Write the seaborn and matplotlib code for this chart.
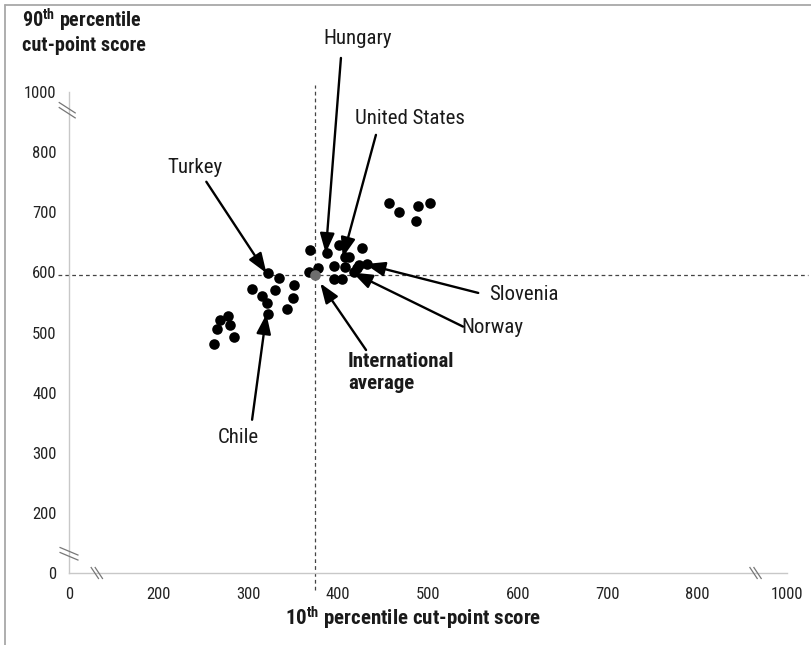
import matplotlib
matplotlib.use('Agg')
import matplotlib.pyplot as plt
from matplotlib.lines import Line2D
from matplotlib import font_manager
import seaborn as sns
import pandas as pd

# 10th and 90th percentile cut-point scores (one dot per country)
p10_scores = [262, 265, 268, 277, 279, 284,
              322, 334, 351, 304, 315, 330, 321, 350, 343, 322,
              369, 367, 377, 388, 401, 407, 412, 426, 395, 407, 423, 432, 418, 421, 395, 404,
              457, 468, 489, 502, 487]
p90_scores = [481, 506, 521, 527, 512, 493,
              599, 591, 580, 573, 561, 571, 549, 558, 540, 531,
              637, 601, 607, 632, 646, 625, 625, 641, 611, 609, 612, 614, 600, 607, 589, 590,
              715, 700, 711, 716, 686]

# international average
avg_p10 = 374
avg_p90 = 596

# broken axis: label "0" sits at position 100 and "1000" at 900
tick_pos = [100, 200, 300, 400, 500, 600, 700, 800, 900]
tick_labels = ['0', '200', '300', '400', '500', '600', '700', '800', '1000']

# labelled countries: name, dot it points to, text position, arrow start
countries = ['Hungary', 'United States', 'Turkey', 'Slovenia', 'Norway', 'Chile']
country_dots = [(388, 632), (407, 625), (322, 599), (432, 614), (418, 600), (322, 531)]
label_pos = [(422, 990), (480, 857), (240, 774), (607, 564), (572, 508), (289, 325)]
arrow_start = [(403, 957), (442, 829), (253, 751), (556, 566), (539, 510), (304, 355)]

sns.set_style('white')
installed = {f.name for f in font_manager.fontManager.ttflist}
base_font = next((f for f in ['Liberation Sans Narrow', 'Arial Narrow', 'Roboto Condensed',
                              'Liberation Sans'] if f in installed), 'DejaVu Sans')
plt.rcParams['font.family'] = [base_font, 'DejaVu Sans']
plt.rcParams['mathtext.fontset'] = 'custom'
plt.rcParams['mathtext.rm'] = base_font
plt.rcParams['mathtext.bf'] = base_font + ':bold'

W, H = 812, 645
fig = plt.figure(figsize=(W / 100, H / 100), dpi=100)
ax = fig.add_axes([0, 0, 1, 1])
xmin, xmax = 23.1, 927.9
ymin, ymax = -19.8, 1053.4
ax.set_xlim(xmin, xmax)
ax.set_ylim(ymin, ymax)
sx = W / (xmax - xmin)   # pixels per data unit
sy = H / (ymax - ymin)

df = pd.DataFrame({'p10': p10_scores, 'p90': p90_scores})
sns.scatterplot(data=df, x='p10', y='p90', color='black', s=58, linewidth=0, ax=ax, zorder=4)
sns.scatterplot(x=[avg_p10], y=[avg_p90], color='#6e6e6e', s=58, linewidth=0, ax=ax, zorder=5)

# average reference lines
ax.plot([avg_p10, avg_p10], [72, 912], ls=(0, (3, 2.5)), color='#444444', lw=0.9, zorder=2)
ax.plot([88, 923], [avg_p90, avg_p90], ls=(0, (3, 2.5)), color='#444444', lw=0.9, zorder=2)

# axes
for side in ['top', 'right']:
    ax.spines[side].set_visible(False)
ax.spines['left'].set_position(('data', 100))
ax.spines['bottom'].set_position(('data', 100))
ax.spines['left'].set_bounds(100, 900)
ax.spines['bottom'].set_bounds(100, 900)
for side in ['left', 'bottom']:
    ax.spines[side].set_color('#c8c8c8')
    ax.spines[side].set_linewidth(1.0)
ax.set_xticks(tick_pos)
ax.set_xticklabels(tick_labels)
ax.set_yticks(tick_pos)
ax.set_yticklabels(tick_labels)
ax.tick_params(axis='y', direction='out', length=4, width=0.8, color='#b0b0b0',
               labelsize=12, pad=5, labelcolor='#222222')
ax.tick_params(axis='x', direction='in', length=4, width=0.8, color='#b0b0b0',
               labelsize=12, pad=10, labelcolor='#222222')
ax.set_xlabel('')
ax.set_ylabel('')


# axis break marks (double slashes)
def break_mark(x, y, w, h, gap_x, gap_y):
    for k in (-0.5, 0.5):
        cx = x + k * gap_x / sx
        cy = y + k * gap_y / sy
        ax.plot([cx - w / 2 / sx, cx + w / 2 / sx], [cy + h / 2 / sy, cy - h / 2 / sy],
                color='#777777', lw=0.9, zorder=3, solid_capstyle='butt')


break_mark(98, 870, 17, 11, 0, 5)
break_mark(100, 132, 19, 8, 0, 5)
break_mark(131, 100, 8, 12, 4, 0)
break_mark(865, 100, 8, 12, 4, 0)

# country labels with arrows
arrow_kw = dict(arrowstyle='-|>,head_length=0.6,head_width=0.22', color='black',
                lw=1.7, mutation_scale=20, shrinkA=0, shrinkB=0)
for name, dot, tpos, start in zip(countries, country_dots, label_pos, arrow_start):
    ax.annotate('', xy=(dot[0] - 2, dot[1]), xytext=start, arrowprops=arrow_kw, zorder=6)
    ax.text(tpos[0], tpos[1], name, fontsize=15, ha='center', va='center', color='#1a1a1a')

ax.annotate('', xy=(380, 582), xytext=(431, 471), arrowprops=arrow_kw, zorder=6)
ax.text(411, 433, 'International\naverage', fontsize=15, fontweight='bold',
        ha='left', va='center', linespacing=1.2, color='#1a1a1a')

# axis titles
fig.text(22 / W, 1 - 7 / H, r'$\mathbf{90^{th}}$ percentile' + '\ncut-point score',
         fontsize=14.5, fontweight='bold', ha='left', va='top', linespacing=1.15, color='#1a1a1a')
fig.text(413 / W, 1 - 618 / H, r'$\mathbf{10^{th}}$ percentile cut-point score',
         fontsize=15, fontweight='bold', ha='center', va='center', color='#1a1a1a')

# light frame around the figure
fig.add_artist(Line2D([5 / W, 5 / W], [0, 1 - 5 / H], transform=fig.transFigure,
                      color='#a8a8a8', lw=1.3))
fig.add_artist(Line2D([5 / W, 1], [1 - 5 / H, 1 - 5 / H], transform=fig.transFigure,
                      color='#a8a8a8', lw=1.3))

fig.savefig('out.png', dpi=100)
